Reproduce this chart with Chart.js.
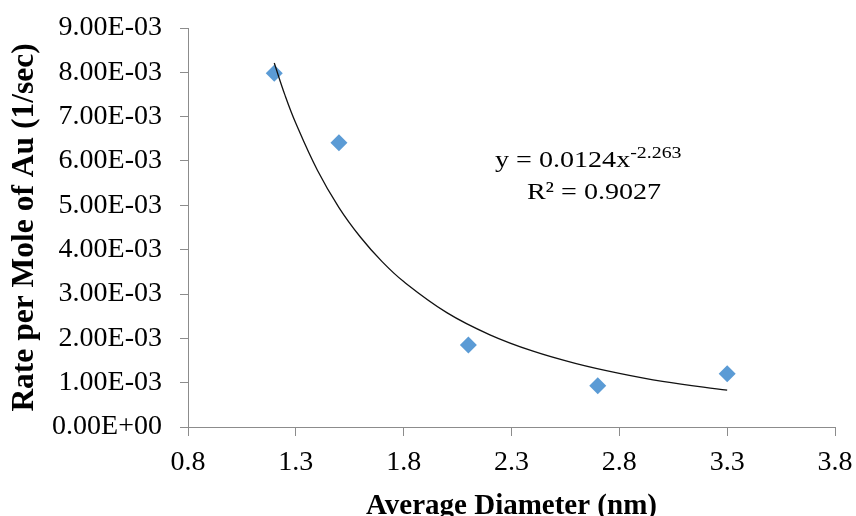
<!DOCTYPE html>
<html>
<head>
<meta charset="utf-8">
<script src="https://cdn.jsdelivr.net/npm/chart.js@4.4.0/dist/chart.umd.min.js"></script>
<style>
  html, body { margin: 0; padding: 0; background: #fff; }
  #wrap { width: 856px; height: 516px; position: relative; }
</style>
</head>
<body>
<div id="wrap"><canvas id="rateChart"></canvas></div>
<script>
// measured rates vs particle size
const diameters = [1.2, 1.5, 2.1, 2.7, 3.3];
const rates = [7.98e-3, 6.41e-3, 1.85e-3, 0.93e-3, 1.20e-3];

// power trendline
const trendX = [1.2, 1.25, 1.3, 1.4, 1.5, 1.6, 1.7, 1.8, 2.0, 2.2, 2.4, 2.6, 2.8, 3.0, 3.3];
const trendY = [8.21e-3, 7.48e-3, 6.85e-3, 5.79e-3, 4.95e-3, 4.28e-3, 3.73e-3, 3.28e-3,
                2.58e-3, 2.08e-3, 1.71e-3, 1.43e-3, 1.21e-3, 1.03e-3, 0.83e-3];

const xTickLabels = ["0.8", "1.3", "1.8", "2.3", "2.8", "3.3", "3.8"];
const yTickLabels = ["0.00E+00", "1.00E-03", "2.00E-03", "3.00E-03", "4.00E-03",
                     "5.00E-03", "6.00E-03", "7.00E-03", "8.00E-03", "9.00E-03"];

const eqMain = "y = 0.0124x";
const eqPower = "-2.263";
const r2Text = "R\u00B2 = 0.9027";

const serif = '"Liberation Serif", "Times New Roman", serif';
const axisGray = "#8c8c8c";

// text in the reference is a bit wide, so stretch it sideways
function wideText(ctx, text, x, y, size, stretch, align) {
  ctx.save();
  ctx.font = size + "px " + serif;
  ctx.translate(x, y);
  ctx.scale(stretch, 1);
  ctx.textAlign = align || "left";
  ctx.fillText(text, 0, 0);
  const w = ctx.measureText(text).width * stretch;
  ctx.restore();
  return w;
}

// equation + R² text next to the curve
const fitLabel = {
  id: "fitLabel",
  afterDraw(chart) {
    const ctx = chart.ctx;
    ctx.save();
    ctx.fillStyle = "#000";
    ctx.textBaseline = "alphabetic";
    const w = wideText(ctx, eqMain, 495, 167, 24, 1.17);
    wideText(ctx, eqPower, 495 + w, 158, 17, 1.17);
    wideText(ctx, r2Text, 594, 199, 24, 1.17, "center");
    ctx.restore();
  }
};

new Chart(document.getElementById("rateChart"), {
  type: "scatter",
  data: {
    datasets: [
      {
        label: "Power fit",
        data: trendX.map((x, i) => ({ x, y: trendY[i] })),
        showLine: true,
        borderColor: "#111",
        borderWidth: 1.3,
        pointRadius: 0,
        tension: 0.4,
        fill: false
      },
      {
        label: "Rate",
        data: diameters.map((x, i) => ({ x, y: rates[i] })),
        pointStyle: "rectRot",
        pointRadius: 8.5,
        pointBackgroundColor: "#5B9BD5",
        pointBorderWidth: 0,
        showLine: false
      }
    ]
  },
  options: {
    responsive: true,
    maintainAspectRatio: false,
    animation: false,
    layout: { padding: { top: 28, right: 21, left: 0, bottom: 0 } },
    plugins: {
      legend: { display: false },
      tooltip: { enabled: false }
    },
    scales: {
      x: {
        type: "linear",
        min: 0.8,
        max: 3.8,
        ticks: {
          stepSize: 0.5,
          padding: 10,
          color: "#000",
          font: { family: serif, size: 28 },
          callback: (v, i) => xTickLabels[i]
        },
        grid: { drawOnChartArea: false, drawTicks: true, tickLength: 9, color: axisGray },
        border: { display: true, color: axisGray, width: 1 },
        title: {
          display: true,
          text: "Average Diameter (nm)",
          color: "#000",
          font: { family: serif, size: 29, weight: "bold", lineHeight: 0.66 },
          padding: { top: 0, bottom: 0 }
        },
        afterFit: (scale) => {
          scale.height = 89;
          scale.paddingLeft = 0;
          scale.paddingRight = 0;
        }
      },
      y: {
        min: 0,
        max: 0.009,
        ticks: {
          stepSize: 0.001,
          padding: 18,
          color: "#000",
          font: { family: serif, size: 28 },
          callback: (v, i) => yTickLabels[i]
        },
        grid: { drawOnChartArea: false, drawTicks: true, tickLength: 8, color: axisGray },
        border: { display: true, color: axisGray, width: 1 },
        title: {
          display: true,
          text: "Rate per Mole of Au (1/sec)",
          color: "#000",
          font: { family: serif, size: 31.5, weight: "bold", lineHeight: 1 },
          padding: { top: 9, bottom: 0 }
        },
        afterFit: (scale) => {
          scale.width = 188;
          scale.paddingTop = 0;
          scale.paddingBottom = 0;
        }
      }
    }
  },
  plugins: [fitLabel]
});
</script>
</body>
</html>
